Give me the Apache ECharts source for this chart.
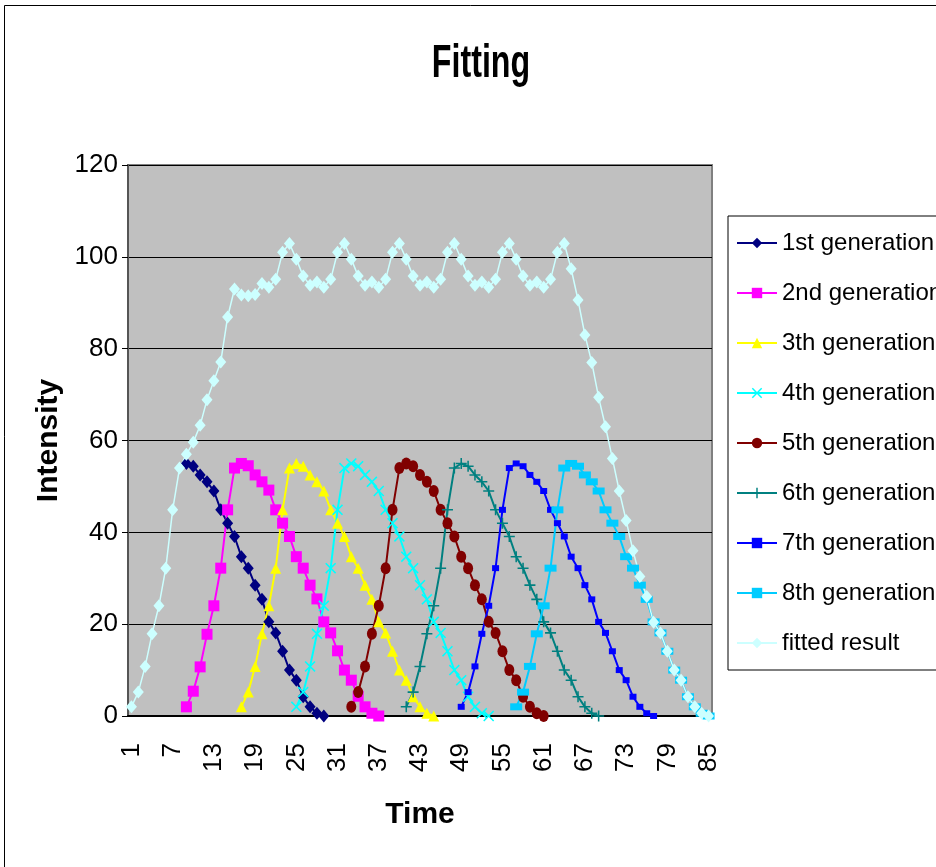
<!DOCTYPE html>
<html>
<head>
<meta charset="utf-8">
<title>Fitting</title>
<script src="https://cdn.jsdelivr.net/npm/echarts@6/dist/echarts.min.js"></script>
<style>
  html, body { margin: 0; padding: 0; background: #fff; }
  #main { width: 936px; height: 867px; }
</style>
</head>
<body>
<div id="main"></div>
<script>
// time axis 1..85
var timeList = [];
for (var t = 1; t <= 85; t++) timeList.push(String(t));

var yTicks = [0, 20, 40, 60, 80, 100, 120];

// each generation: first time point and the values
var gen1Start = 9;
var gen1 = [55, 54.4, 52.5, 51, 49, 44.9, 42, 39.1, 34.7, 32.2, 28.5, 25.4, 20.5, 18.1, 14.1, 10, 7.8, 4.2, 2, 0.6, 0];
var gen2Start = 9;
var gen2 = [2, 5.4, 10.7, 17.8, 24, 32.2, 44.9, 54, 55, 54.5, 52.5, 51, 49.2, 44.9, 42, 39.1, 34.7, 32.2, 28.5, 25.5, 20.5, 18.1, 14.2, 10, 7.8, 4.3, 2, 0.6, 0];
var gen3Start = 17;
var gen3 = [2, 5.2, 10.8, 17.9, 24, 32.2, 44.9, 54, 55, 54.4, 52.5, 51, 49, 44.9, 42, 39.1, 34.7, 32.2, 28.5, 25.4, 20.5, 18.1, 14.1, 10, 7.8, 4.2, 2, 0.6, 0];
var gen4Start = 25;
var gen4 = [2, 5.2, 10.8, 17.9, 24, 32.2, 44.9, 54, 55, 54.4, 52.5, 51, 49, 44.9, 42, 39.1, 34.7, 32.2, 28.5, 25.4, 20.5, 18.1, 14.1, 10, 7.8, 4.2, 2, 0.6, 0];
var gen5Start = 33;
var gen5 = [2, 5.2, 10.8, 17.9, 24, 32.2, 44.9, 54, 55, 54.4, 52.5, 51, 49, 44.9, 42, 39.1, 34.7, 32.2, 28.5, 25.4, 20.5, 18.1, 14.1, 10, 7.8, 4.2, 2, 0.6, 0];
var gen6Start = 41;
var gen6 = [2, 5.2, 10.8, 17.9, 24, 32.2, 44.9, 54, 55, 54.4, 52.5, 51, 49, 44.9, 42, 39.1, 34.7, 32.2, 28.5, 25.4, 20.5, 18.1, 14.1, 10, 7.8, 4.2, 2, 0.6, 0];
var gen7Start = 49;
var gen7 = [2, 5.2, 10.8, 17.9, 24, 32.2, 44.9, 54, 55, 54.4, 52.5, 51, 49, 44.9, 42, 39.1, 34.7, 32.2, 28.5, 25.4, 20.5, 18.1, 14.1, 10, 7.8, 4.2, 2, 0.6, 0];
var gen8Start = 57;
var gen8 = [2, 5.2, 10.8, 17.9, 24, 32.2, 44.9, 54, 55, 54.4, 52.5, 51, 49, 44.9, 42, 39.1, 34.7, 32.2, 28.5, 25.4, 20.5, 18.1, 14.1, 10, 7.8, 4.2, 2, 0.6, 0];

var fitted = [
  2, 5.2, 10.8, 17.9, 24, 32.2, 44.9, 54,
  57, 59.6, 63.3, 68.9, 73, 77.1, 86.9, 93,
  91.7, 91.5, 91.8, 94.2, 93.4, 95.1, 101, 102.9,
  99.5, 95.8, 93.8, 94.5, 93.4, 95.1, 101, 102.9,
  99.5, 95.8, 93.8, 94.5, 93.4, 95.1, 101, 102.9,
  99.5, 95.8, 93.8, 94.5, 93.4, 95.1, 101, 102.9,
  99.5, 95.8, 93.8, 94.5, 93.4, 95.1, 101, 102.9,
  99.5, 95.8, 93.8, 94.5, 93.4, 95.1, 101, 102.9,
  97.4, 90.6, 83, 77, 69.4, 63, 56.1, 49,
  42.6, 36, 30.4, 26, 20.4, 18.1, 14.1, 10,
  7.8, 4.2, 2, 0.6, 0
];

var names = ['1st generation', '2nd generation', '3th generation', '4th generation', '5th generation',
             '6th generation', '7th generation', '8th generation', 'fitted result'];

// place a generation on the 85-point axis
function place(start, vals) {
  var out = [];
  for (var i = 0; i < timeList.length; i++) {
    var k = i + 1 - start;
    out.push(k >= 0 && k < vals.length ? vals[k] : null);
  }
  return out;
}

var xMark = 'path://M1,0L5,4L9,0L10,1L6,5L10,9L9,10L5,6L1,10L0,9L4,5L0,1Z';
var plusMark = 'path://M4.3,0H5.7V4.3H10V5.7H5.7V10H4.3V5.7H0V4.3H4.3Z';

function lineSeries(name, data, color, symbol, size, width) {
  return {
    name: name,
    type: 'line',
    data: data,
    symbol: symbol,
    symbolSize: size,
    showAllSymbol: true,
    connectNulls: false,
    lineStyle: { color: color, width: width || 2 },
    itemStyle: { color: color, borderWidth: 0 },
    emphasis: { disabled: true }
  };
}

var plain = '"Liberation Sans", Arial, sans-serif';

var myChart = echarts.init(document.getElementById('main'));
var option = {
  animation: false,
  backgroundColor: '#ffffff',
  graphic: [{
    type: 'rect',
    shape: { x: 4.5, y: 5.5, width: 1200, height: 1200 },
    style: { fill: null, stroke: '#000', lineWidth: 1 },
    silent: true
  }, {
    // title, squeezed sideways like the original
    type: 'text',
    x: 481,
    y: 64,
    scaleX: 0.7,
    style: {
      text: 'Fitting',
      font: 'bold 46px "Liberation Sans", Arial, sans-serif',
      fill: '#000',
      textAlign: 'center',
      textVerticalAlign: 'middle'
    },
    silent: true
  }],
  legend: {
    orient: 'vertical',
    left: 728,
    top: 216,
    padding: [14, 30, 14, 8],
    itemWidth: 40,
    itemHeight: 13,
    itemGap: 24,
    borderColor: '#000',
    borderWidth: 1,
    backgroundColor: '#fff',
    selectedMode: false,
    textStyle: { fontFamily: plain, fontSize: 24, color: '#000', lineHeight: 26 },
    data: names
  },
  grid: {
    left: 128, top: 165, right: 224, bottom: 151,
    show: true,
    backgroundColor: '#C0C0C0',
    borderColor: '#808080',
    borderWidth: 2
  },
  xAxis: {
    type: 'category',
    data: timeList,
    boundaryGap: true,
    name: 'Time',
    nameLocation: 'middle',
    nameGap: 84,
    nameTextStyle: { fontFamily: plain, fontSize: 30, fontWeight: 'bold', color: '#000' },
    axisLine: { lineStyle: { color: '#000', width: 2 } },
    axisTick: { interval: 0, length: 7, lineStyle: { color: '#000' } },
    axisLabel: { interval: 5, rotate: 90, margin: 27, fontFamily: plain, fontSize: 26, color: '#000' },
    splitLine: { show: false }
  },
  yAxis: {
    type: 'value',
    min: yTicks[0],
    max: yTicks[yTicks.length - 1],
    interval: 20,
    name: 'Intensity',
    nameLocation: 'middle',
    nameGap: 62,
    nameTextStyle: { fontFamily: plain, fontSize: 30, fontWeight: 'bold', color: '#000' },
    axisLine: { show: true, lineStyle: { color: '#555', width: 2 } },
    axisTick: { show: true, length: 6, lineStyle: { color: '#000' } },
    axisLabel: { margin: 10, fontFamily: plain, fontSize: 26, color: '#000' },
    splitLine: { lineStyle: { color: '#000', width: 1 } }
  },
  series: [
    lineSeries(names[0], place(gen1Start, gen1), '#000080', 'diamond', [11, 13]),
    lineSeries(names[1], place(gen2Start, gen2), '#FF00FF', 'rect', 11),
    lineSeries(names[2], place(gen3Start, gen3), '#FFFF00', 'triangle', [11, 11]),
    lineSeries(names[3], place(gen4Start, gen4), '#00FFFF', xMark, 11),
    lineSeries(names[4], place(gen5Start, gen5), '#800000', 'circle', [10, 12]),
    lineSeries(names[5], place(gen6Start, gen6), '#008080', plusMark, 11),
    lineSeries(names[6], place(gen7Start, gen7), '#0000FF', 'rect', [7, 6]),
    lineSeries(names[7], place(gen8Start, gen8), '#00CCFF', 'rect', [12, 7]),
    lineSeries(names[8], fitted, '#CCFFFF', 'diamond', [11, 13], 1.5)
  ]
};
myChart.setOption(option);
</script>
</body>
</html>
